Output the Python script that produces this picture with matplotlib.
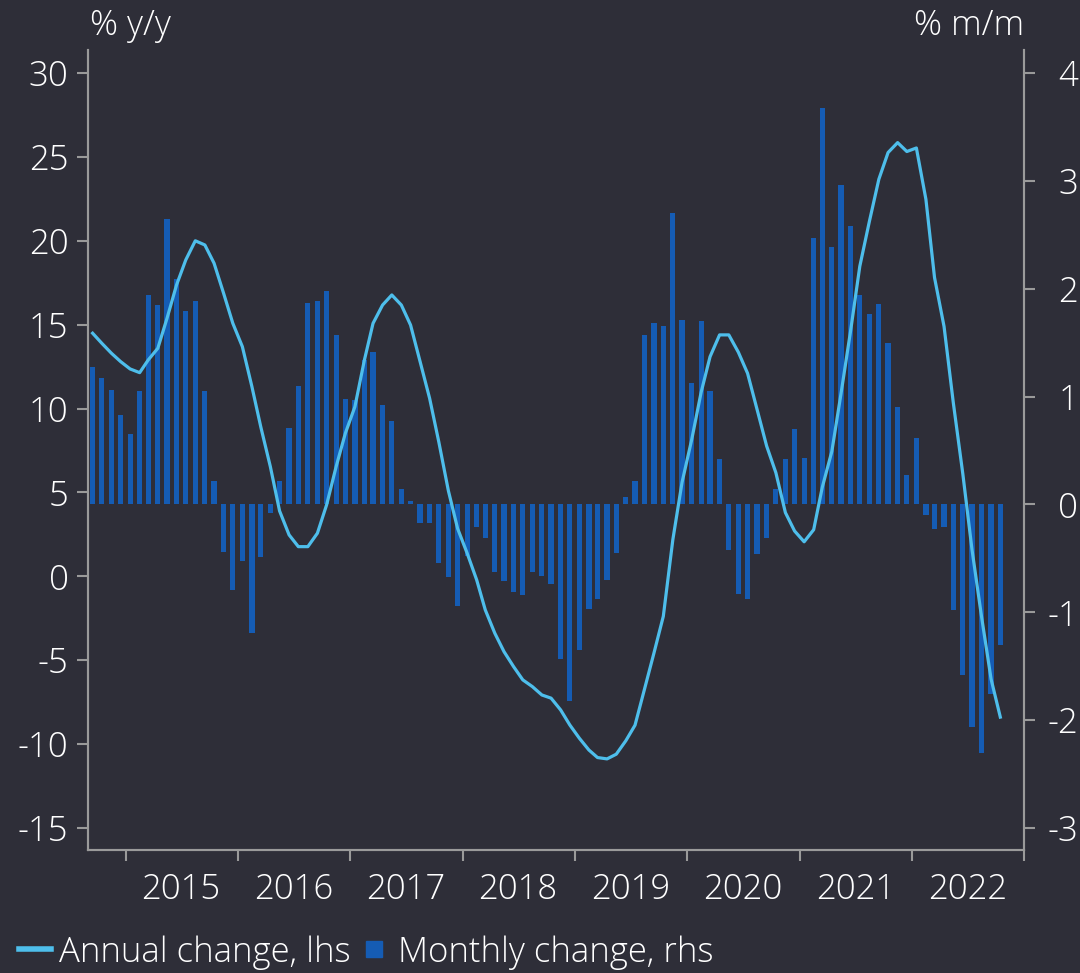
import numpy as np
import pandas as pd
import matplotlib
matplotlib.use("Agg")
import matplotlib.pyplot as plt
import matplotlib.dates as mdates
from matplotlib.lines import Line2D

# monthly data, Sep 2014 - Oct 2022
start = "2014-09-01"

# monthly change, % m/m (rhs)
monthly = [1.27, 1.17, 1.06, 0.83, 0.65, 1.05, 1.94, 1.85, 2.65, 2.09,
           1.79, 1.89, 1.05, 0.22, -0.44, -0.79, -0.52, -1.19, -0.49, -0.08,
           0.22, 0.71, 1.10, 1.87, 1.89, 1.98, 1.57, 0.98, 0.97, 1.34,
           1.41, 0.92, 0.77, 0.14, 0.03, -0.17, -0.17, -0.54, -0.67, -0.94,
           -0.48, -0.21, -0.31, -0.63, -0.71, -0.81, -0.84, -0.63, -0.66, -0.74,
           -1.43, -1.82, -1.35, -0.97, -0.88, -0.70, -0.45, 0.07, 0.22, 1.57,
           1.68, 1.65, 2.70, 1.71, 1.13, 1.70, 1.05, 0.42, -0.42, -0.83,
           -0.88, -0.46, -0.31, 0.14, 0.42, 0.70, 0.43, 2.47, 3.68, 2.39,
           2.96, 2.58, 1.94, 1.77, 1.86, 1.50, 0.90, 0.27, 0.62, -0.10,
           -0.23, -0.21, -0.98, -1.58, -2.06, -2.30, -1.76, -1.30]

# annual change, % y/y (lhs)
annual = [14.49, 13.89, 13.30, 12.80, 12.36, 12.14, 12.90, 13.59, 15.38, 17.37,
          18.86, 20.00, 19.75, 18.66, 16.87, 15.08, 13.69, 11.31, 8.90, 6.54,
          3.90, 2.47, 1.77, 1.77, 2.57, 4.26, 6.54, 8.53, 10.11, 12.90,
          15.08, 16.17, 16.77, 16.17, 14.98, 12.80, 10.61, 8.00, 5.10, 2.85,
          1.38, -0.21, -2.00, -3.39, -4.49, -5.38, -6.17, -6.57, -7.07, -7.26,
          -7.96, -8.86, -9.65, -10.35, -10.80, -10.88, -10.60, -9.80, -8.87, -6.71,
          -4.54, -2.38, 2.19, 5.61, 8.12, 10.97, 13.09, 14.39, 14.39, 13.36,
          12.10, 9.94, 7.77, 6.18, 3.80, 2.70, 2.06, 2.78, 5.31, 7.44,
          10.90, 14.62, 18.48, 21.14, 23.67, 25.26, 25.85, 25.32, 25.53, 22.47,
          17.81, 14.89, 10.36, 6.11, 1.58, -2.41, -6.13, -8.39]

lhs_ticks = [-15, -10, -5, 0, 5, 10, 15, 20, 25, 30]
rhs_ticks = [-3, -2, -1, 0, 1, 2, 3, 4]

dates = pd.date_range(start, periods=len(monthly), freq="MS") + pd.Timedelta(days=15)

bg = "#2E2E38"
bar_col = "#155CB4"
line_col = "#4EBEEB"
grey = "#9A9A9A"

plt.rcParams["font.family"] = ["Open Sans", "DejaVu Sans"]
plt.rcParams["font.weight"] = "light"
plt.rcParams["font.size"] = 25
plt.rcParams["axes.unicode_minus"] = False

fig = plt.figure(figsize=(10.8, 9.73), dpi=100, facecolor=bg)
ax = fig.add_axes([88 / 1080, 1 - 850 / 973, (1024 - 88) / 1080, 800 / 973])
ax.set_facecolor(bg)
ax2 = ax.twinx()

# bars on rhs, line on lhs (line drawn on top)
ax2.bar(dates, monthly, width=17, color=bar_col, zorder=1)
ax.set_zorder(ax2.get_zorder() + 1)
ax.patch.set_visible(False)
ax2.patch.set_visible(True)
ax2.patch.set_facecolor(bg)
ax.plot(dates, annual, color=line_col, lw=2.3, zorder=3)

ax.set_ylim(-16.31, 31.37)
ax2.set_ylim((-16.31 - 30 / 7) / (45 / 7), (31.37 - 30 / 7) / (45 / 7))
ax.set_yticks(lhs_ticks)
ax2.set_yticks(rhs_ticks)
ax.set_xlim(pd.Timestamp("2014-09-01"), pd.Timestamp("2023-01-01"))

# year boundaries as ticks, year labels centred between them
ax.xaxis.set_major_locator(mdates.YearLocator())
ax.xaxis.set_major_formatter(plt.NullFormatter())
ax.xaxis.set_minor_locator(mdates.MonthLocator(bymonth=7))
ax.xaxis.set_minor_formatter(mdates.DateFormatter("%Y"))

for a in (ax, ax2):
    for s in a.spines.values():
        s.set_color(grey)
        s.set_linewidth(1.5)
    a.spines["top"].set_visible(False)

ax.tick_params(axis="x", which="major", length=8, width=1.5, color=grey)
ax.tick_params(axis="x", which="minor", length=0, pad=16, labelcolor="white", labelsize=25)
ax.tick_params(axis="y", length=8, width=1.5, color=grey, labelcolor="white", pad=6)
ax2.tick_params(axis="y", length=8, width=1.5, color=grey, labelcolor="white", pad=31)
for lab in ax2.get_yticklabels():
    lab.set_horizontalalignment("right")

fig.text(90 / 1080, 1 - 26 / 973, "% y/y", color="white", fontsize=25, va="center", ha="left")
fig.text(1024 / 1080, 1 - 26 / 973, "% m/m", color="white", fontsize=25, va="center", ha="right")

handles = [Line2D([], [], color=line_col, lw=4),
           Line2D([], [], color=bar_col, marker="s", ls="none", markersize=12)]
fig.legend(handles, ["Annual change, lhs", "Monthly change, rhs"],
           loc="lower left", bbox_to_anchor=(16 / 1080, 0.0), ncol=2, frameon=False,
           handlelength=0.9, handletextpad=0.25, columnspacing=0.2, borderpad=0.1,
           borderaxespad=0, labelcolor="white", fontsize=25)

fig.savefig("out.png", dpi=100, facecolor=bg)
